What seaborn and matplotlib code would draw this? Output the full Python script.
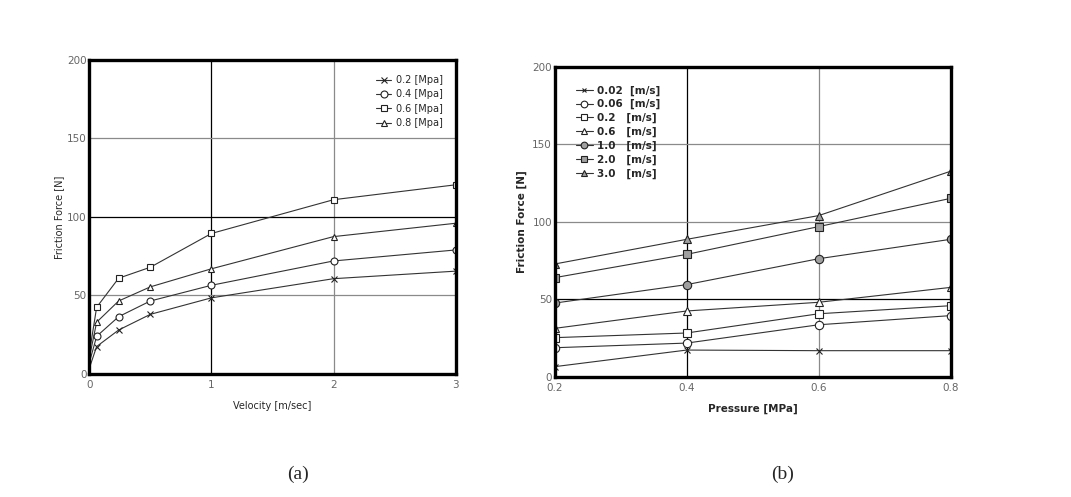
import matplotlib
matplotlib.use("Agg")
import matplotlib.pyplot as plt
import seaborn as sns
import pandas as pd

sns.set_style("white")
plt.rcParams['font.family'] = ['DejaVu Sans']

# ---- (a) data: friction force vs velocity ----
velocity_a = [0.01, 0.06, 0.24, 0.5, 1.0, 2.0, 3.0]
force_02 = [6, 17.5, 28, 38, 48.5, 60.7, 65.5]
force_04 = [10, 24, 36.5, 46.5, 56.5, 72, 79]
force_06 = [18, 42.5, 61, 68, 89.5, 111, 120.5]
force_08 = [14, 33, 46.5, 55.5, 67, 87.5, 96]
labels_a = ["0.2 [Mpa]", "0.4 [Mpa]", "0.6 [Mpa]", "0.8 [Mpa]"]

# ---- (b) data: friction force vs pressure ----
pressure_b = [0.2, 0.4, 0.6, 0.8]
f_002 = [6.5, 17.2, 16.8, 16.8]
f_006 = [18.7, 21.7, 33.5, 39.4]
f_02 = [25.2, 28.2, 40.6, 45.8]
f_06 = [31.2, 42.4, 48.0, 57.6]
f_10 = [47.5, 59.4, 76.1, 88.6]
f_20 = [63.9, 78.9, 96.8, 115.0]
f_30 = [72.7, 88.6, 103.9, 132.5]
labels_b = ["0.02  [m/s]", "0.06  [m/s]", "0.2   [m/s]", "0.6   [m/s]",
            "1.0   [m/s]", "2.0   [m/s]", "3.0   [m/s]"]

xticks_a = [0, 1, 2, 3]
xticks_b = [0.2, 0.4, 0.6, 0.8]
yticks = [0, 50, 100, 150, 200]

fig = plt.figure(figsize=(10.71, 4.97), dpi=100)
axA = fig.add_axes([0.0834, 0.2475, 0.342, 0.6318])
axB = fig.add_axes([0.518, 0.242, 0.3695, 0.624])

GRAY = "#8a8a8a"

def style_axes(ax, xticks, xlim, black_x, black_y):
    ax.set_xlim(*xlim)
    ax.set_ylim(0, 200)
    ax.set_xticks(xticks)
    ax.set_yticks(yticks)
    for t in xticks[1:-1]:
        ax.axvline(t, color="black" if t == black_x else GRAY, lw=0.9, zorder=0)
    for t in yticks[1:-1]:
        ax.axhline(t, color="black" if t == black_y else GRAY, lw=0.9, zorder=0)
    for s in ax.spines.values():
        s.set_linewidth(2.4)
        s.set_color("black")
        s.set_visible(True)
    ax.tick_params(axis="y", length=0, pad=2, labelsize=7.5, labelcolor="#666666")
    ax.tick_params(axis="x", length=0, pad=4.5, labelsize=7.5, labelcolor="#666666")

# ---- panel (a) ----
series_a = [force_02, force_04, force_06, force_08]
markers_a = ["x", "o", "s", "^"]
for vals, lab, m in zip(series_a, labels_a, markers_a):
    df = pd.DataFrame({"v": velocity_a, "f": vals})
    sns.lineplot(data=df, x="v", y="f", ax=axA, color="#333333", lw=0.8,
                 marker=m, markersize=5 if m != "x" else 4,
                 markerfacecolor="white", markeredgecolor="#222222",
                 markeredgewidth=0.8, markevery=list(range(1, len(velocity_a))),
                 label=lab)
style_axes(axA, xticks_a, (0, 3), 1, 100)
axA.set_xticklabels(["0", "1", "2", "3"])
axA.set_xlabel("Velocity [m/sec]", fontsize=7, labelpad=8)
axA.set_ylabel("Friction Force [N]", fontsize=7, labelpad=2)
legA = axA.legend(loc="upper right", frameon=False, fontsize=7, handlelength=1.6,
                  handletextpad=0.5, labelspacing=0.45, bbox_to_anchor=(0.99, 0.98))

# ---- panel (b) ----
series_b = [f_002, f_006, f_02, f_06, f_10, f_20, f_30]
markers_b = ["x", "o", "s", "^", "o", "s", "^"]
faces_b = ["white", "white", "white", "white", "#a0a0a0", "#a0a0a0", "#a0a0a0"]
for vals, lab, m, fc in zip(series_b, labels_b, markers_b, faces_b):
    df = pd.DataFrame({"p": pressure_b, "f": vals})
    sns.lineplot(data=df, x="p", y="f", ax=axB, color="#333333", lw=0.8,
                 marker=m, markersize=6 if m != "x" else 4,
                 markerfacecolor=fc, markeredgecolor="#222222",
                 markeredgewidth=0.8, label=lab)
style_axes(axB, xticks_b, (0.2, 0.8), 0.4, 50)
axB.set_xticklabels(["0.2", "0.4", "0.6", "0.8"])
axB.set_xlabel("Pressure [MPa]", fontsize=7.5, fontweight="bold", labelpad=8)
axB.set_ylabel("Friction Force [N]", fontsize=7.5, fontweight="bold", labelpad=4)
legB = axB.legend(loc="upper left", frameon=False, handlelength=1.6,
                  handletextpad=0.4, labelspacing=0.35, bbox_to_anchor=(0.03, 0.97),
                  prop={"weight": "bold", "size": 7.5}, markerscale=0.8)

fig.text(0.278, 0.046, "(a)", ha="center", va="center", fontsize=14,
         family=["Liberation Serif", "DejaVu Serif"])
fig.text(0.731, 0.046, "(b)", ha="center", va="center", fontsize=14,
         family=["Liberation Serif", "DejaVu Serif"])

fig.savefig("out.png", dpi=100, facecolor="white")
